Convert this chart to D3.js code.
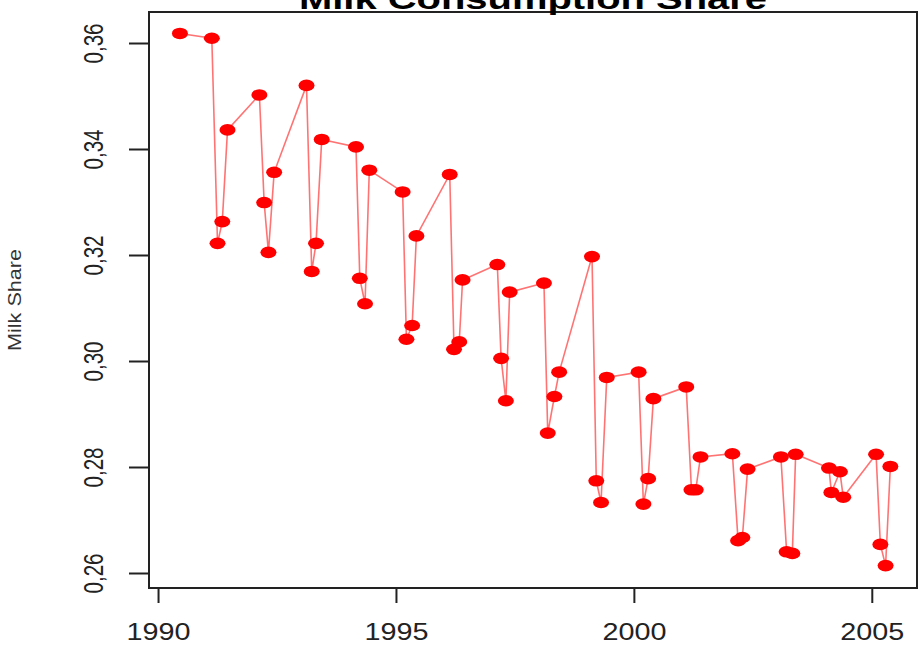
<!DOCTYPE html>
<html>
<head>
<meta charset="utf-8">
<script src="https://cdn.jsdelivr.net/npm/d3@7"></script>
<style>
  body { margin: 0; background: #fff; }
  svg { display: block; font-family: "Liberation Sans", Arial, sans-serif; }
</style>
</head>
<body>
<div id="chart"></div>
<script>
// quarterly milk share, x = year position
const years = [1990.46, 1991.13, 1991.25, 1991.35, 1991.46, 1992.13, 1992.23, 1992.32, 1992.44,
  1993.12, 1993.23, 1993.32, 1993.44, 1994.16, 1994.24, 1994.35, 1994.44, 1995.14, 1995.22,
  1995.34, 1995.43, 1996.13, 1996.22, 1996.33, 1996.40, 1997.13, 1997.21, 1997.31, 1997.39,
  1998.11, 1998.19, 1998.33, 1998.43, 1999.12, 1999.21, 1999.31, 1999.43, 2000.10, 2000.20,
  2000.30, 2000.41, 2001.10, 2001.21, 2001.30, 2001.40, 2002.07, 2002.19, 2002.28, 2002.39,
  2003.09, 2003.21, 2003.33, 2003.40, 2004.10, 2004.15, 2004.33, 2004.40, 2005.09, 2005.18,
  2005.29, 2005.39];
const share = [0.3618, 0.3609, 0.3222, 0.3263, 0.3436, 0.3502, 0.3299, 0.3205, 0.3356,
  0.3520, 0.3169, 0.3222, 0.3418, 0.3404, 0.3156, 0.3108, 0.3360, 0.3319, 0.3041,
  0.3067, 0.3236, 0.3352, 0.3022, 0.3036, 0.3153, 0.3182, 0.3005, 0.2925, 0.3130,
  0.3147, 0.2864, 0.2933, 0.2979, 0.3197, 0.2774, 0.2733, 0.2969, 0.2979, 0.2730,
  0.2778, 0.2929, 0.2951, 0.2757, 0.2757, 0.2819, 0.2825, 0.2661, 0.2667, 0.2796,
  0.2819, 0.2640, 0.2637, 0.2824, 0.2798, 0.2752, 0.2791, 0.2743, 0.2824, 0.2654,
  0.2614, 0.2801];
const xTicks = [1990, 1995, 2000, 2005];
const yTicks = [0.26, 0.28, 0.30, 0.32, 0.34, 0.36];
const yTickLabels = ['0,26', '0,28', '0,30', '0,32', '0,34', '0,36'];

const width = 919, height = 654;
const box = { left: 149, right: 917, top: 12, bottom: 588 };

const svg = d3.select('#chart').append('svg')
  .attr('width', width)
  .attr('height', height);

svg.append('rect').attr('width', width).attr('height', height).attr('fill', '#fff');

const x = d3.scaleLinear().domain([1989.81, 2005.95]).range([box.left, box.right]);
const y = d3.scaleLinear().domain([0.25717, 0.36585]).range([box.bottom, box.top]);

const data = years.map((yr, i) => ({ x: yr, y: share[i] }));

// line + points
const line = d3.line().x(d => x(d.x)).y(d => y(d.y));

svg.append('path')
  .datum(data)
  .attr('d', line)
  .attr('fill', 'none')
  .attr('stroke', '#ff0000')
  .attr('stroke-opacity', 0.55)
  .attr('stroke-width', 1.6);

svg.append('g').selectAll('ellipse')
  .data(data)
  .enter().append('ellipse')
  .attr('cx', d => x(d.x))
  .attr('cy', d => y(d.y))
  .attr('rx', 8)
  .attr('ry', 5.8)
  .attr('fill', '#ff0000');

// axes
const xAxis = svg.append('g')
  .attr('transform', 'translate(0,' + box.bottom + ')')
  .call(d3.axisBottom(x).tickValues(xTicks).tickSize(15).tickFormat(d3.format('d')));
xAxis.select('.domain').remove();
xAxis.selectAll('line').attr('stroke', '#222').attr('stroke-width', 2);
xAxis.selectAll('text')
  .attr('y', 52)
  .attr('dy', 0)
  .attr('fill', '#222')
  .style('font-size', '24px')
  .attr('textLength', 64)
  .attr('lengthAdjust', 'spacingAndGlyphs');

const yAxis = svg.append('g')
  .attr('transform', 'translate(' + box.left + ',0)')
  .call(d3.axisLeft(y).tickValues(yTicks).tickSize(20).tickFormat((d, i) => yTickLabels[i]));
yAxis.select('.domain').remove();
yAxis.selectAll('line').attr('stroke', '#222').attr('stroke-width', 2);
yAxis.selectAll('.tick text')
  .attr('x', null).attr('dy', null)
  .attr('text-anchor', 'middle')
  .attr('transform', 'translate(-46,0) rotate(-90)')
  .attr('fill', '#222')
  .style('font-size', '27px')
  .attr('textLength', 40)
  .attr('lengthAdjust', 'spacingAndGlyphs');

// frame
svg.append('rect')
  .attr('x', box.left)
  .attr('y', box.top)
  .attr('width', box.right - box.left)
  .attr('height', box.bottom - box.top)
  .attr('fill', 'none')
  .attr('stroke', '#222')
  .attr('stroke-width', 2);

// titles
svg.append('text')
  .attr('x', (box.left + box.right) / 2)
  .attr('y', 9)
  .attr('text-anchor', 'middle')
  .style('font-size', '30px')
  .style('font-weight', 'bold')
  .attr('textLength', 468)
  .attr('lengthAdjust', 'spacingAndGlyphs')
  .text('Milk Consumption Share');

svg.append('text')
  .attr('transform', 'translate(21,' + (box.top + box.bottom) / 2 + ') rotate(-90)')
  .attr('text-anchor', 'middle')
  .attr('fill', '#333')
  .style('font-size', '19px')
  .attr('textLength', 102)
  .attr('lengthAdjust', 'spacingAndGlyphs')
  .text('Milk Share');
</script>
</body>
</html>
